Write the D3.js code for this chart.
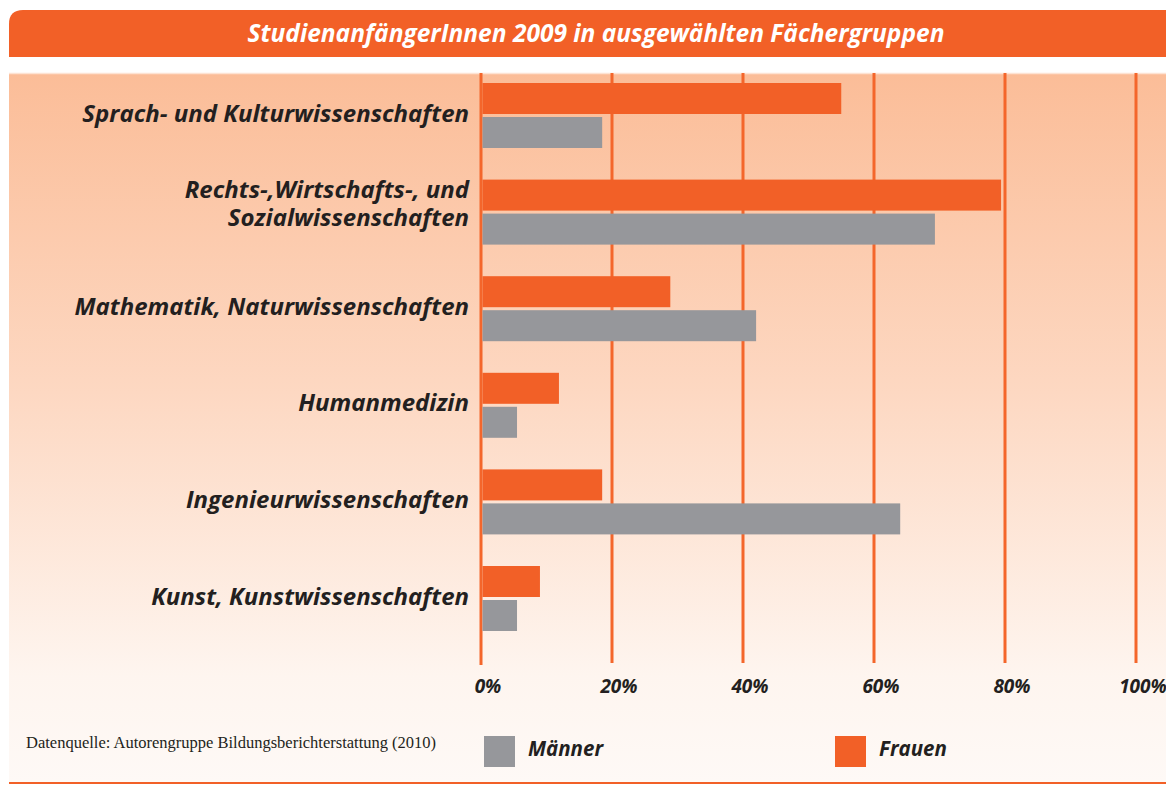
<!DOCTYPE html>
<html>
<head>
<meta charset="utf-8">
<script src="https://cdn.jsdelivr.net/npm/d3@7/dist/d3.min.js"></script>
<style>
  body { margin: 0; background: #fff; }
  text { font-family: "Open Sans", sans-serif; }
</style>
</head>
<body>
<div id="container"></div>
<script>
var width = 1166;
var height = 785;

var categories = [
  "Sprach- und Kulturwissenschaften",
  "Rechts-,Wirtschafts-, und\nSozialwissenschaften",
  "Mathematik, Naturwissenschaften",
  "Humanmedizin",
  "Ingenieurwissenschaften",
  "Kunst, Kunstwissenschaften"
];
var frauen = [55, 79.4, 28.9, 11.9, 18.5, 9];
var maenner = [18.5, 69.3, 42, 5.5, 64, 5.5];
var ticks = [0, 20, 40, 60, 80, 100];
var title = "StudienanfängerInnen 2009 in ausgewählten Fächergruppen";
var source = "Datenquelle: Autorengruppe Bildungsberichterstattung (2010)";
var legendItems = [["Männer", "#96979b"], ["Frauen", "#f26027"]];

var orange = "#f26027";
var grey = "#96979b";

var x = d3.scaleLinear().domain([0, 100]).range([481, 1136]);
var y = d3.scaleBand().domain(categories).range([83, 83 + 6 * 96.6]);

var svg = d3.select("#container")
  .append("svg")
  .attr("width", width)
  .attr("height", height);

var defs = svg.append("defs");
var grad = defs.append("linearGradient")
  .attr("id", "bg")
  .attr("x1", 0).attr("y1", 0).attr("x2", 0).attr("y2", 1);
grad.append("stop").attr("offset", "0%").attr("stop-color", "#fbbd98");
grad.append("stop").attr("offset", "45%").attr("stop-color", "#fdd8c2");
grad.append("stop").attr("offset", "85%").attr("stop-color", "#fef5ef");
grad.append("stop").attr("offset", "100%").attr("stop-color", "#fef9f6");

// background
svg.append("rect")
  .attr("x", 9).attr("y", 73)
  .attr("width", width - 9).attr("height", 709)
  .attr("fill", "url(#bg)");
svg.append("line")
  .attr("x1", 9).attr("x2", width)
  .attr("y1", 73.5).attr("y2", 73.5)
  .attr("stroke", "#fde3d3").attr("stroke-width", 1.5);

// title bar with rounded left corner
var r = 14;
svg.append("path")
  .attr("d", "M9," + 57 + " L9," + (10 + r) + " Q9,10 " + (9 + r) + ",10 L" + width + ",10 L" + width + ",57 Z")
  .attr("fill", orange);
svg.append("text")
  .attr("x", 596).attr("y", 42)
  .attr("text-anchor", "middle")
  .attr("fill", "#fff")
  .style("font-size", "24.5px")
  .style("font-weight", "bold")
  .style("font-style", "italic")
  .text(title);

// gridlines
svg.append("g")
  .selectAll("line")
  .data(ticks)
  .enter().append("line")
  .attr("x1", function(d) { return x(d); })
  .attr("x2", function(d) { return x(d); })
  .attr("y1", 73)
  .attr("y2", function(d) { return d === 0 ? 665 : 663; })
  .attr("stroke", "#f4662b")
  .attr("stroke-width", 3);

// tick labels
svg.append("g")
  .selectAll("text")
  .data(ticks)
  .enter().append("text")
  .attr("x", function(d) { return x(d) + 7; })
  .attr("y", 693)
  .attr("text-anchor", "middle")
  .attr("fill", "#231f20")
  .style("font-size", "19px")
  .style("font-weight", "bold")
  .style("font-style", "italic")
  .text(function(d) { return d + "%"; });

// bars
var bars = svg.append("g");
bars.selectAll("rect.f")
  .data(categories)
  .enter().append("rect")
  .attr("class", "f")
  .attr("x", x(0) + 1.5)
  .attr("y", function(d) { return y(d); })
  .attr("width", function(d, i) { return x(frauen[i]) - x(0) - 1.5; })
  .attr("height", 31)
  .attr("fill", orange);
bars.selectAll("rect.m")
  .data(categories)
  .enter().append("rect")
  .attr("class", "m")
  .attr("x", x(0) + 1.5)
  .attr("y", function(d) { return y(d) + 34; })
  .attr("width", function(d, i) { return x(maenner[i]) - x(0) - 1.5; })
  .attr("height", 31)
  .attr("fill", grey);

// category labels
var labels = svg.append("g")
  .selectAll("text")
  .data(categories)
  .enter().append("text")
  .attr("text-anchor", "end")
  .attr("fill", "#231f20")
  .style("font-size", "24px")
  .style("font-weight", "bold")
  .style("font-style", "italic");

labels.each(function(d) {
  var lines = d.split("\n");
  var cy = y(d) + 32.5;
  var t = d3.select(this);
  lines.forEach(function(l, k) {
    t.append("tspan")
      .attr("x", 469)
      .attr("y", lines.length === 1 ? cy + 6 : cy + (k - 0.5) * 28)
      .text(l);
  });
});

// source
svg.append("text")
  .attr("x", 26).attr("y", 748)
  .attr("fill", "#231f20")
  .style("font-family", "'Liberation Serif', serif")
  .style("font-size", "16.5px")
  .text(source);

// legend
var lx = [484, 835];
var leg = svg.append("g")
  .selectAll("g")
  .data(legendItems)
  .enter().append("g")
  .attr("transform", function(d, i) { return "translate(" + lx[i] + ",736)"; });
leg.append("rect")
  .attr("width", 31).attr("height", 31)
  .attr("fill", function(d) { return d[1]; });
leg.append("text")
  .attr("x", 44).attr("y", 20)
  .attr("fill", "#231f20")
  .style("font-size", "20.5px")
  .style("font-weight", "bold")
  .style("font-style", "italic")
  .text(function(d) { return d[0]; });

// bottom rule
svg.append("line")
  .attr("x1", 9).attr("x2", width)
  .attr("y1", 783).attr("y2", 783)
  .attr("stroke", orange).attr("stroke-width", 2);
</script>
</body>
</html>
